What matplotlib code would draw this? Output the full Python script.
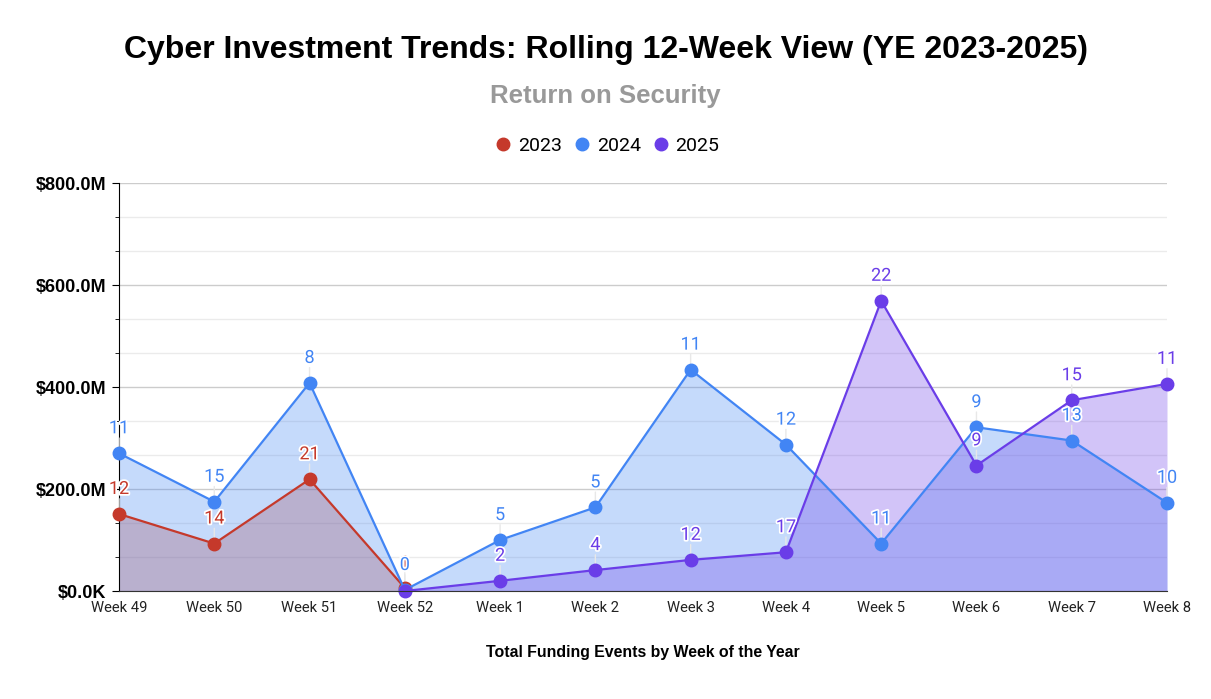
import numpy as np
import matplotlib.pyplot as plt
import matplotlib.patheffects as pe
from matplotlib.ticker import FuncFormatter, MultipleLocator
from matplotlib.lines import Line2D

nan = np.nan

weeks = ["Week 49", "Week 50", "Week 51", "Week 52", "Week 1", "Week 2",
         "Week 3", "Week 4", "Week 5", "Week 6", "Week 7", "Week 8"]

# funding in $M, and number of funding events (data labels)
funding_2023 = [151, 93, 219, 6, nan, nan, nan, nan, nan, nan, nan, nan]
counts_2023 = [12, 14, 21, 1, None, None, None, None, None, None, None, None]

funding_2024 = [270, 175, 408, 2, 100, 164, 434, 287, 93, 321, 295, 173]
counts_2024 = [11, 15, 8, 0, 5, 5, 11, 12, 11, 9, 13, 10]

funding_2025 = [nan, nan, nan, 0, 20, 41, 61, 76, 569, 246, 374, 406]
counts_2025 = [None, None, None, None, 2, 4, 12, 17, 22, 9, 15, 11]

series = [
    ("2023", funding_2023, counts_2023, "#c5392b"),
    ("2024", funding_2024, counts_2024, "#4285f4"),
    ("2025", funding_2025, counts_2025, "#6a3de8"),
]

fig = plt.figure(figsize=(12.11, 6.99), dpi=100)
ax = fig.add_axes([119 / 1211, 1 - 591 / 699, (1167 - 119) / 1211, (591 - 183) / 699])

x = np.arange(len(weeks))

for name, vals, counts, col in series:
    v = np.array(vals, dtype=float)
    ax.fill_between(x, v, 0, where=~np.isnan(v), color=col, alpha=0.3,
                    lw=0, zorder=2)
    ax.plot(x, v, color=col, lw=1.6, marker="o", markersize=9, zorder=4,
            clip_on=False)

# data labels: event counts, with a faint leader line under the markers
for name, vals, counts, col in series:
    for i, (v, c) in enumerate(zip(vals, counts)):
        if c is None:
            continue
        ax.annotate("", (i, v), xytext=(0, 11), textcoords="offset points",
                    zorder=3, annotation_clip=False,
                    arrowprops=dict(arrowstyle="-", color="#e8e8e8", lw=1,
                                    shrinkA=0, shrinkB=3))
        ax.annotate(str(c), (i, v), xytext=(0, 18), textcoords="offset points",
                    ha="center", va="center", fontsize=13, color=col,
                    family="Roboto", zorder=6, annotation_clip=False,
                    path_effects=[pe.withStroke(linewidth=2.5, foreground="white")])

ax.set_xlim(0, len(weeks) - 1)
ax.set_ylim(0, 800)
ax.set_xticks(x)
ax.set_xticklabels(weeks, family="Roboto", fontsize=10.6, color="#222222")
ax.tick_params(axis="x", length=0, pad=7)

ax.yaxis.set_major_locator(MultipleLocator(200))
ax.yaxis.set_minor_locator(MultipleLocator(200 / 3))
ax.yaxis.set_major_formatter(FuncFormatter(
    lambda v, p: "$0.0K" if v == 0 else "${:.1f}M".format(v)))
ax.tick_params(axis="y", which="major", length=5, labelsize=13, pad=4)
ax.tick_params(axis="y", which="minor", length=3)
for lab in ax.get_yticklabels():
    lab.set_fontweight("bold")
    lab.set_family("Liberation Sans")

ax.grid(axis="y", which="major", color="#cccccc", lw=1, zorder=0)
ax.grid(axis="y", which="minor", color="#ebebeb", lw=1, zorder=0)
ax.set_axisbelow(True)

for s in ["top", "right"]:
    ax.spines[s].set_visible(False)
ax.spines["left"].set_color("#000000")
ax.spines["bottom"].set_color("#333333")
ax.spines["bottom"].set_zorder(5)

fig.text(0.5, 1 - 50 / 699, "Cyber Investment Trends: Rolling 12-Week View (YE 2023-2025)",
         ha="center", va="center", fontsize=23, fontweight="bold",
         family="Liberation Sans", color="#000000")
fig.text(0.5, 1 - 96 / 699, "Return on Security", ha="center", va="center",
         fontsize=18.5, fontweight="bold", family="Liberation Sans", color="#999999")
fig.text(643 / 1211, 1 - 653 / 699, "Total Funding Events by Week of the Year",
         ha="center", va="center", fontsize=11.4, fontweight="bold",
         family="Liberation Sans", color="#000000")

handles = [Line2D([], [], ls="none", marker="o", markersize=9, color=col)
           for _, _, _, col in series]
fig.legend(handles, [s[0] for s in series], loc="center",
           bbox_to_anchor=(0.5, 1 - 146 / 699), ncol=3, frameon=False,
           prop={"family": "Roboto", "size": 14}, handletextpad=0.15,
           columnspacing=0.45, handlelength=1.2)

fig.savefig("out.png", dpi=100)
